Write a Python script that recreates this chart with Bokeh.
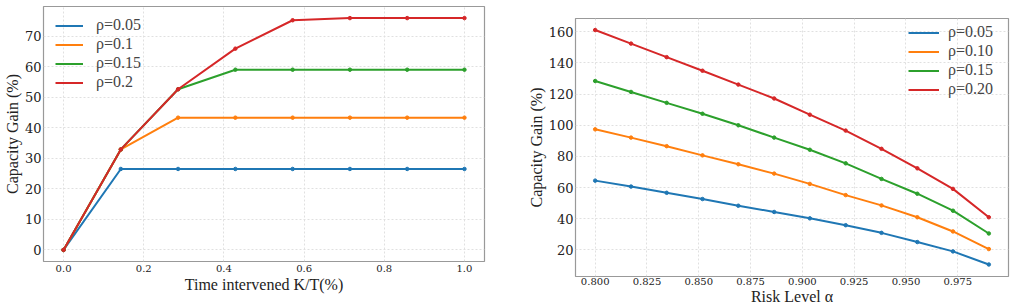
from bokeh.plotting import figure
from bokeh.layouts import row
from bokeh.models import FixedTicker, NumeralTickFormatter, Range1d, Legend, LegendItem
from bokeh.embed import file_html
from bokeh.resources import INLINE

# ---- data: left panel ----
k_frac = [0.0, 1/7, 2/7, 3/7, 4/7, 5/7, 6/7, 1.0]
left_rho_05 = [0.0, 26.5, 26.5, 26.5, 26.5, 26.5, 26.5, 26.5]
left_rho_10 = [0.0, 32.9, 43.3, 43.3, 43.3, 43.3, 43.3, 43.3]
left_rho_15 = [0.0, 32.9, 52.6, 59.0, 59.0, 59.0, 59.0, 59.0]
left_rho_20 = [0.0, 32.9, 52.6, 65.9, 75.2, 75.9, 75.9, 75.9]
left_labels = ["ρ=0.05", "ρ=0.1", "ρ=0.15", "ρ=0.2"]
left_xticks = [0.0, 0.2, 0.4, 0.6, 0.8, 1.0]
left_yticks = [0, 10, 20, 30, 40, 50, 60, 70]

# ---- data: right panel ----
alpha = [0.8, 0.8173, 0.8345, 0.8518, 0.8691, 0.8864, 0.9036, 0.9209, 0.9382, 0.9555, 0.9727, 0.99]
right_rho_05 = [64.5, 60.7, 56.7, 52.7, 48.4, 44.4, 40.3, 35.9, 31.0, 25.1, 19.1, 10.7]
right_rho_10 = [97.4, 92.1, 86.6, 80.7, 75.0, 69.0, 62.4, 55.2, 48.6, 41.0, 31.9, 20.6]
right_rho_15 = [128.4, 121.4, 114.4, 107.4, 100.0, 92.1, 84.3, 75.6, 65.6, 56.1, 45.2, 30.6]
right_rho_20 = [161.1, 152.4, 143.7, 135.0, 126.1, 117.2, 106.8, 96.6, 84.9, 72.4, 59.2, 41.0]
right_labels = ["ρ=0.05", "ρ=0.10", "ρ=0.15", "ρ=0.20"]
right_xticks = [0.800, 0.825, 0.850, 0.875, 0.900, 0.925, 0.950, 0.975]
right_yticks = [20, 40, 60, 80, 100, 120, 140, 160]

colors = ["#1f77b4", "#ff7f0e", "#2ca02c", "#d62728"]
TICK_FONT = "DejaVu Serif"
LABEL_FONT = "Liberation Serif"


def style(p, ytick_size, xtick_size, label_size, tick_standoff_x, tick_standoff_y):
    p.outline_line_color = "#999999"
    p.outline_line_width = 1.2
    for ax in (p.xaxis[0], p.yaxis[0]):
        ax.axis_line_color = None
        ax.major_tick_line_color = None
        ax.minor_tick_line_color = None
        ax.major_tick_out = 0
        ax.major_tick_in = 0
        ax.axis_label_text_font = LABEL_FONT
        ax.axis_label_text_font_style = "normal"
        ax.axis_label_text_font_size = label_size
        ax.axis_label_text_color = "#222222"
        ax.major_label_text_font = TICK_FONT
        ax.major_label_text_color = "#222222"
        ax.axis_label_standoff = 1
    p.yaxis[0].major_label_text_font_size = ytick_size
    p.xaxis[0].major_label_text_font_size = xtick_size
    p.xaxis[0].major_label_standoff = tick_standoff_x
    p.yaxis[0].major_label_standoff = tick_standoff_y
    p.grid.grid_line_color = "#e0e0e0"
    p.grid.grid_line_dash = "2 2"
    p.grid.grid_line_width = 1
    p.background_fill_color = "white"
    p.border_fill_color = "white"


def add_series(p, xs, series, labels):
    items = []
    for ys, c, lab in zip(series, colors, labels):
        r1 = p.line(xs, ys, line_color=c, line_width=2)
        p.scatter(xs, ys, size=3.5, marker="circle", fill_color=c, line_color=c)
        items.append(LegendItem(label=lab, renderers=[r1]))
    return items


# ---- left figure ----
p1 = figure(width=500, height=307, output_backend="svg", toolbar_location=None,
            x_range=Range1d(-0.05, 1.05), y_range=Range1d(-3.8, 79.7),
            min_border_left=42, min_border_right=16, min_border_top=6, min_border_bottom=46,
            frame_align=False)
style(p1, "13px", "10px", "16px", 3, 2)
p1.xaxis.ticker = FixedTicker(ticks=left_xticks)
p1.yaxis.ticker = FixedTicker(ticks=left_yticks)
p1.xaxis.formatter = NumeralTickFormatter(format="0.0")
p1.xaxis.axis_label = "Time intervened K/T(%)"
p1.yaxis.axis_label = "Capacity Gain (%)"
items1 = add_series(p1, k_frac, [left_rho_05, left_rho_10, left_rho_15, left_rho_20], left_labels)
leg1 = Legend(items=items1, location=(12, 170), margin=0, padding=0, spacing=1,
              glyph_width=28, glyph_height=17, label_height=17, label_standoff=13,
              border_line_color=None, background_fill_alpha=0.0)
leg1.label_text_font = LABEL_FONT
leg1.label_text_font_size = "16px"
p1.add_layout(leg1)

# ---- right figure ----
p2 = figure(width=515, height=307, output_backend="svg", toolbar_location=None,
            x_range=Range1d(0.7905, 0.9995), y_range=Range1d(3.0, 168.5),
            min_border_left=75, min_border_right=7, min_border_top=18, min_border_bottom=29,
            frame_align=False)
style(p2, "13px", "10px", "16px", 1, 2)
p2.xaxis.ticker = FixedTicker(ticks=right_xticks)
p2.yaxis.ticker = FixedTicker(ticks=right_yticks)
p2.xaxis.formatter = NumeralTickFormatter(format="0.000")
p2.xaxis.axis_label = "Risk Level α"
p2.yaxis.axis_label = "Capacity Gain (%)"
p2.xaxis[0].axis_label_standoff = 0
items2 = add_series(p2, alpha, [right_rho_05, right_rho_10, right_rho_15, right_rho_20], right_labels)
leg2 = Legend(items=items2, location=(333, 178), margin=0, padding=0, spacing=1,
              glyph_width=31, glyph_height=17, label_height=17, label_standoff=9,
              border_line_color=None, background_fill_alpha=0.0)
leg2.label_text_font = LABEL_FONT
leg2.label_text_font_size = "16px"
p2.add_layout(leg2)

layout = row(p1, p2)
open("out.html", "w").write(file_html(layout, INLINE))
